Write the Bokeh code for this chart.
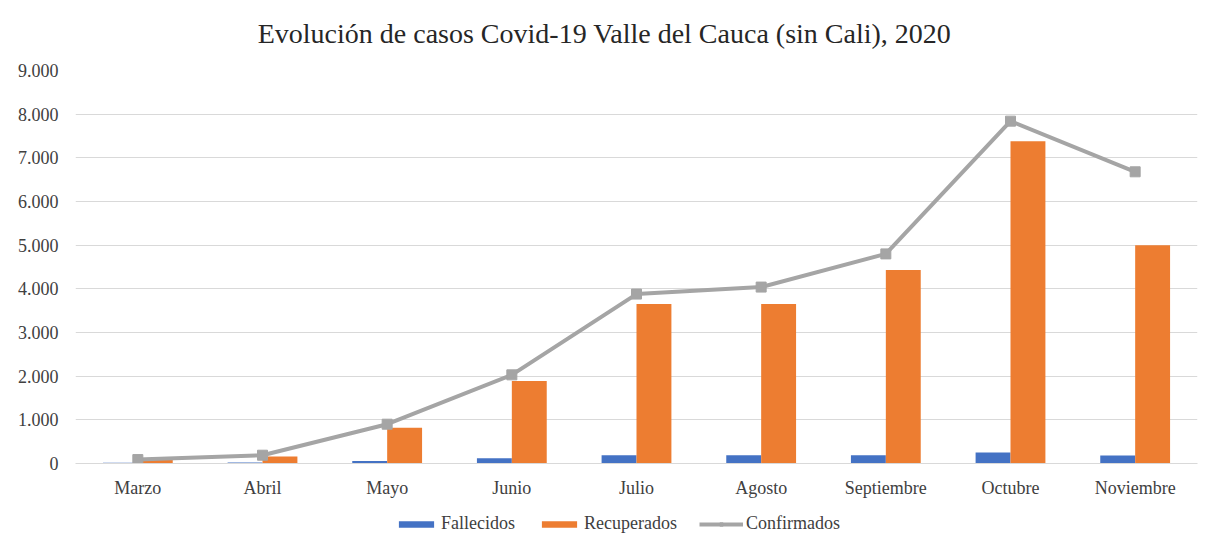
from bokeh.plotting import figure
from bokeh.layouts import column
from bokeh.models import (ColumnDataSource, FactorRange, FixedTicker, Legend, LegendItem,
                          Range1d, Label)
from bokeh.transform import dodge
from bokeh.embed import file_html
from bokeh.resources import INLINE

titulo = "Evolución de casos Covid-19 Valle  del Cauca (sin Cali),  2020"
meses = ["Marzo", "Abril", "Mayo", "Junio", "Julio", "Agosto", "Septiembre", "Octubre", "Noviembre"]
fallecidos = [15, 25, 60, 120, 190, 190, 190, 250, 185]
recuperados = [80, 160, 820, 1890, 3650, 3650, 4430, 7380, 5000]
confirmados = [90, 190, 900, 2030, 3880, 4040, 4800, 7840, 6680]
y_ticks = [0, 1000, 2000, 3000, 4000, 5000, 6000, 7000, 8000, 9000]
y_labels = ["0", "1.000", "2.000", "3.000", "4.000", "5.000", "6.000", "7.000", "8.000", "9.000"]
series = ["Fallecidos", "Recuperados", "Confirmados"]
colores = ["#4472C4", "#ED7D31", "#A5A5A5"]

src = ColumnDataSource(dict(mes=meses, fal=fallecidos, rec=recuperados, conf=confirmados))

SERIF = "Liberation Serif"
TXT = "#404040"


def strip(h, xr, yr):
    f = figure(width=1207, height=h, x_range=xr, y_range=yr,
               output_backend="svg", toolbar_location=None)
    f.axis.visible = False
    f.grid.grid_line_color = None
    f.outline_line_color = None
    f.min_border = 0
    return f


# title strip
pt = strip(60, Range1d(0, 1), Range1d(0, 1))
pt.add_layout(Label(x=536, y=27, x_units="screen", y_units="screen", text=titulo,
                    text_align="center", text_baseline="middle", text_font=SERIF,
                    text_font_size="28px", text_color="#262626"))

# main chart
p = figure(x_range=FactorRange(*meses), y_range=(0, 9000), width=1207, height=440,
           output_backend="svg", toolbar_location=None)
p.min_border_left = 75
p.min_border_right = 10
p.min_border_top = 10
p.min_border_bottom = 36
p.outline_line_color = None

w = 0.28
p.vbar(x=dodge("mes", -w / 2, range=p.x_range), top="fal", width=w, source=src,
       fill_color=colores[0], line_color=None)
p.vbar(x=dodge("mes", w / 2, range=p.x_range), top="rec", width=w, source=src,
       fill_color=colores[1], line_color=None)
p.line(x="mes", y="conf", source=src, line_color=colores[2], line_width=4)
p.scatter(x="mes", y="conf", source=src, marker="square", size=10,
          fill_color=colores[2], line_color=colores[2])

p.yaxis.ticker = FixedTicker(ticks=y_ticks)
p.yaxis.major_label_overrides = {t: l for t, l in zip(y_ticks, y_labels)}
p.yaxis.axis_line_color = None
p.yaxis.major_tick_line_color = None
p.yaxis.minor_tick_line_color = None
p.yaxis.major_label_text_font = SERIF
p.yaxis.major_label_text_font_size = "18px"
p.yaxis.major_label_text_color = TXT
p.yaxis.major_label_standoff = 11

p.xaxis.axis_line_color = "#d9d9d9"
p.xaxis.major_tick_line_color = None
p.xaxis.major_label_text_font = SERIF
p.xaxis.major_label_text_font_size = "18px"
p.xaxis.major_label_text_color = TXT
p.xaxis.major_label_standoff = 8

p.xgrid.grid_line_color = None
p.ygrid.grid_line_color = "#d9d9d9"
p.ygrid.ticker = FixedTicker(ticks=y_ticks)

# legend strip: the same data drawn outside the strip's visible range, used only as swatches
p2 = strip(42, FactorRange(*meses), Range1d(20000, 21000))
e1 = p2.vbar(x="mes", top="fal", width=0.3, source=src, fill_color=colores[0], line_color=None)
e2 = p2.vbar(x="mes", top="rec", width=0.3, source=src, fill_color=colores[1], line_color=None)
e3 = p2.line(x="mes", y="conf", source=src, line_color=colores[2], line_width=4)
e4 = p2.scatter(x="mes", y="conf", source=src, marker="square", size=9,
                fill_color=colores[2], line_color=colores[2])

legend = Legend(items=[LegendItem(label=series[0], renderers=[e1]),
                       LegendItem(label=series[1], renderers=[e2]),
                       LegendItem(label=series[2], renderers=[e3, e4])],
                orientation="horizontal", location=(319, 8),
                label_text_font=SERIF, label_text_font_size="18px", label_text_color=TXT,
                glyph_width=44, glyph_height=8, label_standoff=3, spacing=22,
                border_line_color=None, background_fill_alpha=0, padding=4, margin=0)
p2.add_layout(legend, "center")

open("out.html", "w").write(file_html(column(pt, p, p2, spacing=0), INLINE))
